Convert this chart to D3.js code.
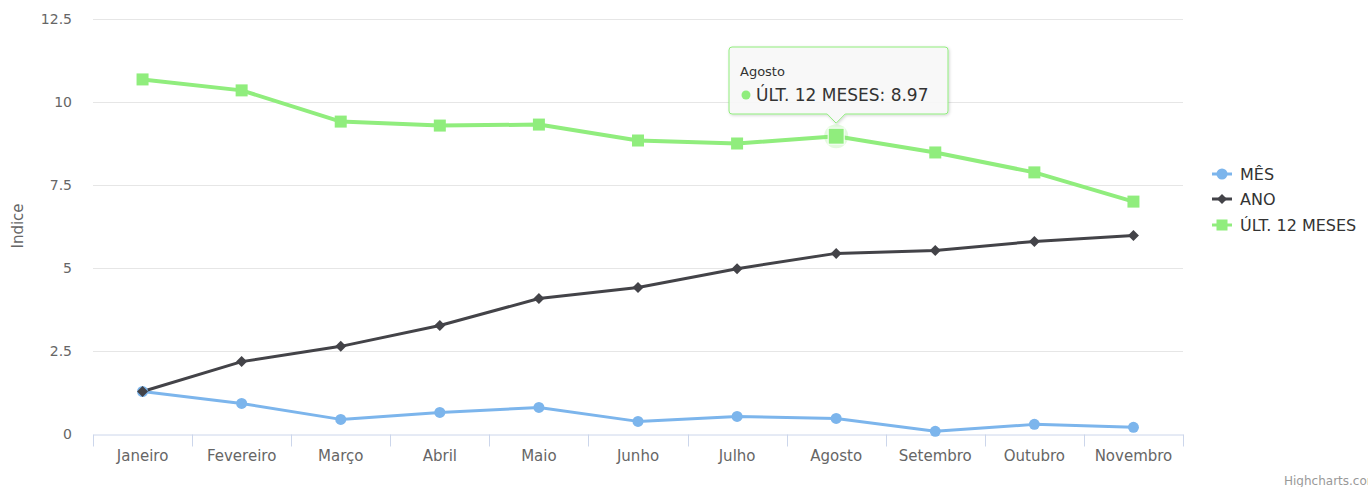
<!DOCTYPE html>
<html><head><meta charset="utf-8">
<script src="https://cdn.jsdelivr.net/npm/d3@7"></script>
<style>body{margin:0;background:#fff}svg{display:block;font-family:"DejaVu Sans",sans-serif}</style>
</head><body><svg id="c" width="1368" height="487"></svg>
<script>
const categories=["Janeiro","Fevereiro","Março","Abril","Maio","Junho","Julho","Agosto","Setembro","Outubro","Novembro"];
const mes=[1.28,0.92,0.44,0.65,0.80,0.38,0.53,0.47,0.08,0.29,0.20];
const ano=[1.28,2.18,2.64,3.27,4.08,4.41,4.98,5.44,5.53,5.80,5.98];
const ult12=[10.68,10.35,9.41,9.29,9.32,8.84,8.75,8.97,8.48,7.88,7.00];
const yTicks=[0,2.5,5,7.5,10,12.5];
const seriesNames=["MÊS","ANO","ÚLT. 12 MESES"];
const colors=["#7cb5ec","#434348","#90ed7d"];
const hoverIndex=7;

const svg=d3.select("#c");
const L=93,R=1183,T=19,B=434;
const x=d3.scaleBand().domain(categories).range([L,R]);
const y=d3.scaleLinear().domain([0,12.5]).range([B,T]);

svg.append("g").selectAll("line").data(yTicks.filter(d=>d>0)).join("line")
 .attr("x1",L).attr("x2",R).attr("y1",d=>Math.round(y(d))+0.5).attr("y2",d=>Math.round(y(d))+0.5)
 .attr("stroke","#e6e6e6");
svg.append("g").selectAll("text").data(yTicks).join("text")
 .attr("x",72).attr("y",d=>y(d)+5).attr("text-anchor","end").attr("fill","#666").attr("font-size",14)
 .text(d=>d);
svg.append("text").attr("transform","translate(23,226) rotate(-90)").attr("text-anchor","middle")
 .attr("fill","#666").attr("font-size",15).text("Indice");
const xa=svg.append("g").attr("transform",`translate(0,${B+0.5})`)
 .call(d3.axisBottom(x).tickSize(0).tickPadding(22));
xa.select(".domain").attr("stroke","#ccd6eb");
xa.selectAll("text").attr("fill","#666").attr("font-size",15).attr("font-family","DejaVu Sans").attr("dy","0.3em");
const edges=categories.map(c=>x(c)).concat([R]);
xa.selectAll(".edge").data(edges).join("line").attr("class","edge")
 .attr("x1",d=>Math.round(d)+0.5).attr("x2",d=>Math.round(d)+0.5).attr("y1",0).attr("y2",12).attr("stroke","#ccd6eb");

const cx=c=>x(c)+x.bandwidth()/2;
const line=d3.line().x((d,i)=>cx(categories[i])).y(d=>y(d));
const data=[mes,ano,ult12];
const widths=[3,3,4];
data.forEach((s,k)=>{
  svg.append("path").datum(s).attr("d",line).attr("fill","none").attr("stroke",colors[k])
   .attr("stroke-width",widths[k]).attr("stroke-linejoin","round").attr("stroke-linecap","round");
});
function marker(g,k,px,py,sz){
  if(k===0) g.append("circle").attr("cx",px).attr("cy",py).attr("r",sz/2).attr("fill",colors[k]);
  else if(k===1) g.append("path").attr("d",`M${px},${py-sz/2}L${px+sz/2},${py}L${px},${py+sz/2}L${px-sz/2},${py}Z`).attr("fill",colors[k]);
  else g.append("rect").attr("x",px-sz/2).attr("y",py-sz/2).attr("width",sz).attr("height",sz).attr("fill",colors[k]);
}
const mg=svg.append("g");
data.forEach((s,k)=>{
  s.forEach((v,i)=>{
    if(k===2&&i===hoverIndex) return;
    marker(mg,k,cx(categories[i]),y(v),k===0?11:(k===1?11:12));
  });
});
const hx=cx(categories[hoverIndex]),hy=y(ult12[hoverIndex]);
svg.append("circle").attr("cx",hx).attr("cy",hy).attr("r",12).attr("fill",colors[2]).attr("opacity",0.25);
svg.append("rect").attr("x",hx-8).attr("y",hy-8).attr("width",16).attr("height",16).attr("fill",colors[2]).attr("stroke","#fff").attr("stroke-width",1);

const lg=svg.append("g");
seriesNames.forEach((n,k)=>{
  const ly=[174,199,225][k];
  lg.append("line").attr("x1",1212).attr("x2",1232).attr("y1",ly).attr("y2",ly).attr("stroke",colors[k]).attr("stroke-width",3);
  marker(lg,k,1222,ly,k===2?11:(k===0?11:10));
  lg.append("text").attr("x",1240).attr("y",ly+5.5).attr("fill","#333").attr("font-size",16).text(n);
});

const tg=svg.append("g");
const bx=729,bw=219,by=47,bh=67;
const tipX=hx,tipY=hy-13;
const tp=`M${bx+3},${by}H${bx+bw-3}Q${bx+bw},${by} ${bx+bw},${by+3}V${by+bh-3}Q${bx+bw},${by+bh} ${bx+bw-3},${by+bh}H${tipX+9}L${tipX},${tipY}L${tipX-9},${by+bh}H${bx+3}Q${bx},${by+bh} ${bx},${by+bh-3}V${by+3}Q${bx},${by} ${bx+3},${by}Z`;
svg.append("defs").append("filter").attr("id","sh").attr("x","-10%").attr("y","-10%").attr("width","130%").attr("height","140%")
 .append("feDropShadow").attr("dx",1).attr("dy",1).attr("stdDeviation",1.5).attr("flood-color","#000").attr("flood-opacity",0.18);
tg.append("path").attr("d",tp).attr("fill","rgba(249,249,249,0.92)").attr("stroke",colors[2]).attr("stroke-width",1).attr("filter","url(#sh)");
tg.append("text").attr("x",740).attr("y",76).attr("font-size",13).attr("fill","#333").text(categories[hoverIndex]);
tg.append("circle").attr("cx",746).attr("cy",95).attr("r",4.5).attr("fill",colors[2]);
tg.append("text").attr("x",756).attr("y",101).attr("font-size",17).attr("fill","#333").text(`${seriesNames[2]}: ${ult12[hoverIndex]}`);

svg.append("text").attr("x",1284).attr("y",485).attr("font-size",12).attr("fill","#999").text("Highcharts.com");
</script></body></html>
